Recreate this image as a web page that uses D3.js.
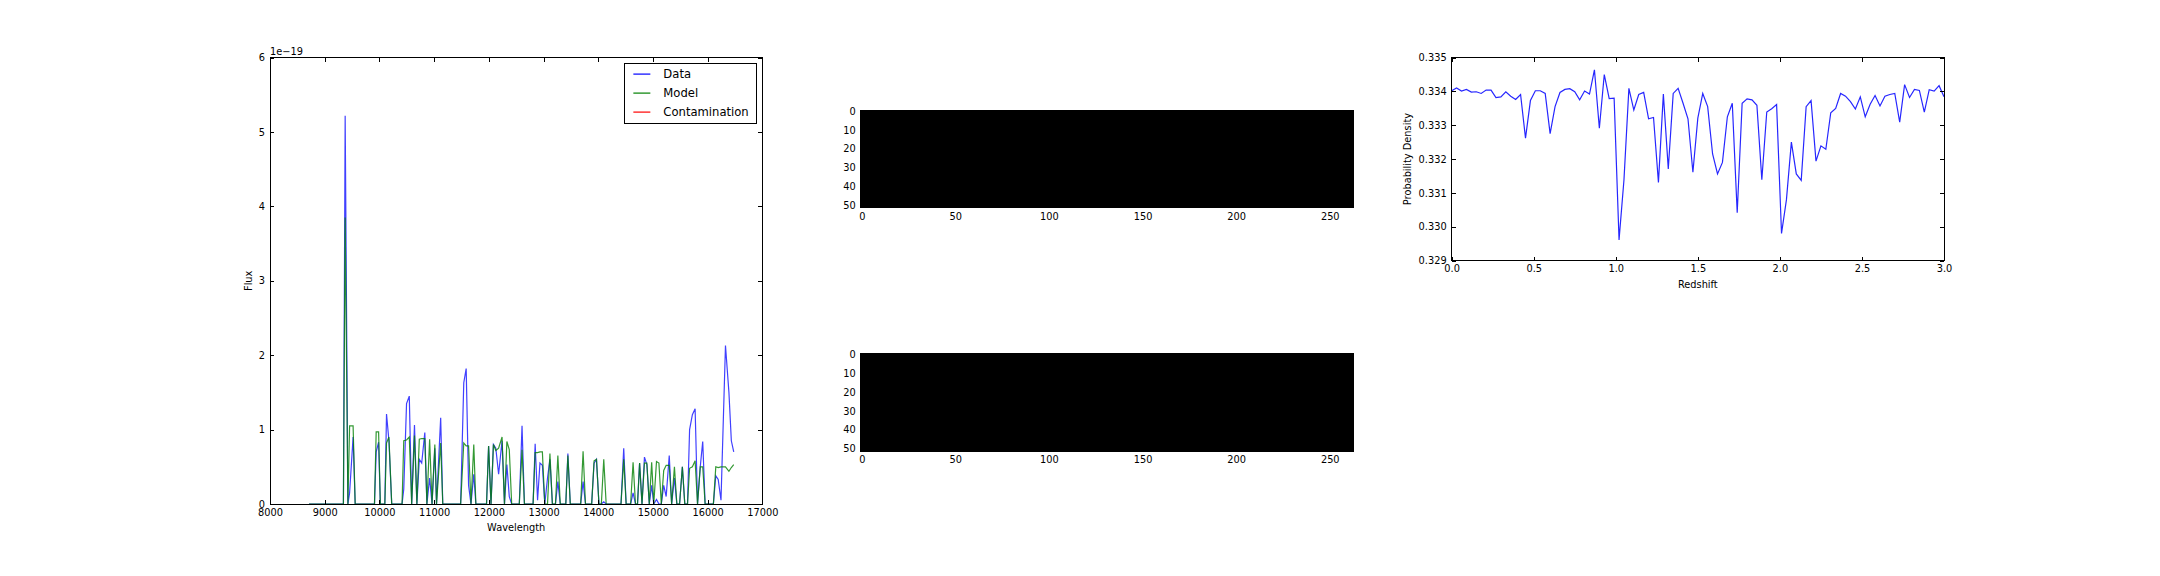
<!DOCTYPE html>
<html><head><meta charset="utf-8">
<script src="https://cdn.jsdelivr.net/npm/d3@7/dist/d3.min.js"></script>
<style>
html,body{margin:0;padding:0;background:#fff;}
svg text{font-family:"DejaVu Sans",sans-serif;fill:#000;}
</style></head>
<body><svg id="c" width="2160" height="576"></svg>
<script>
// ---------------- DATA ----------------
// Spectrum (flux in units of 1e-19)
const wavelength = [8712,9342,9374,9424,9455,9519,9557,9910,9941,9985,10017,10099,10130,10174,10225,10414,10445,10496,10546,10590,10641,10685,10729,10773,10830,10868,10918,10962,11013,11044,11120,11158,11485,11542,11586,11630,11674,11725,11763,11958,11996,12040,12084,12128,12179,12242,12286,12330,12374,12418,12557,12607,12651,12809,12847,12891,12935,12979,13023,13073,13117,13162,13218,13262,13306,13407,13445,13489,13679,13723,13767,13880,13924,13968,14013,14057,14101,14145,14416,14466,14510,14592,14637,14681,14718,14756,14800,14845,14889,14933,14977,15015,15065,15109,15153,15197,15242,15298,15342,15393,15437,15487,15538,15582,15632,15670,15721,15771,15815,15865,15910,15954,16105,16149,16193,16244,16326,16389,16433,16477];
const dataFlux = [0,0,5.22,0,0.15,0.9,0,0,0.7,0.83,0,0,1.21,0.85,0,0,0.2,1.35,1.45,0,1.06,0,0.6,0.55,0.96,0,0.35,0,0.75,0,1.16,0,0,1.63,1.82,0.25,0,0.4,0,0,0.78,0,0.8,0.75,0.4,0.85,0,0.53,0.1,0,0,1.05,0,0,0.81,0.05,0.55,0.52,0,0.35,0.6,0,0,0.3,0,0,0.68,0,0,0.3,0,0,0.55,0.6,0,0,0.03,0,0,0.75,0,0,0.15,0,0,0.55,0,0.63,0.53,0,0.25,0,0.06,0,0,0.25,0.1,0.65,0,0.35,0,0,0.5,0,0,1.0,1.2,1.28,0,0.5,0.84,0,0,0.38,0.33,0.05,2.13,1.5,0.85,0.7];
const modelFlux = [0,0,3.85,0,1.05,1.05,0,0,0.97,0.97,0,0,0.82,0.9,0,0,0.85,0.86,0.9,0,0.92,0,0.87,0.88,0.88,0,0.87,0,0.8,0,0.82,0,0,0.82,0.78,0.78,0,0.8,0,0,0.78,0,0.8,0.72,0.75,0.9,0,0.84,0.73,0,0,0.73,0,0,0.69,0.69,0.7,0.7,0,0,0.68,0,0,0.65,0,0,0.65,0,0,0.71,0,0,0.58,0.6,0,0,0.6,0,0,0.6,0,0,0.56,0,0,0.55,0,0.55,0.55,0,0.56,0,0.57,0.55,0,0.45,0.52,0.52,0,0.5,0,0,0.5,0,0,0.48,0.5,0.58,0,0.5,0.5,0,0,0.5,0.49,0.5,0.5,0.44,0.49,0.53];
const contamFlux = []; // contamination not drawn (no finite values)
const seriesNames = ["Data","Model","Contamination"];
const waveTicks = [8000,9000,10000,11000,12000,13000,14000,15000,16000,17000];
const fluxTicks = [0,1,2,3,4,5,6];

// Redshift probability
const redshift = [0.00,0.03,0.06,0.09,0.12,0.15,0.18,0.21,0.24,0.27,0.30,0.33,0.36,0.39,0.42,0.45,0.48,0.51,0.54,0.57,0.60,0.63,0.66,0.69,0.72,0.75,0.78,0.81,0.84,0.87,0.90,0.93,0.96,0.99,1.02,1.05,1.08,1.11,1.14,1.17,1.20,1.23,1.26,1.29,1.32,1.35,1.38,1.41,1.44,1.47,1.50,1.53,1.56,1.59,1.62,1.65,1.68,1.71,1.74,1.77,1.80,1.83,1.86,1.89,1.92,1.95,1.98,2.01,2.04,2.07,2.10,2.13,2.16,2.19,2.22,2.25,2.28,2.31,2.34,2.37,2.40,2.43,2.46,2.49,2.52,2.55,2.58,2.61,2.64,2.67,2.70,2.73,2.76,2.79,2.82,2.85,2.88,2.91,2.94,2.97,3.00];
const probDensity = [0.33402,0.33410,0.33401,0.33406,0.33398,0.33399,0.33394,0.33404,0.33404,0.33382,
0.33384,0.33399,0.33386,0.33376,0.33391,0.33262,0.33373,0.33402,0.33402,0.33394,
0.33275,0.33355,0.33397,0.33406,0.33408,0.33399,0.33375,0.33401,0.33392,0.33464,
0.33291,0.33450,0.33379,0.33380,0.32961,0.33139,0.33409,0.33345,0.33391,0.33397,
0.33319,0.33323,0.33131,0.33392,0.33171,0.33394,0.33409,0.33365,0.33319,0.33161,
0.33321,0.33394,0.33355,0.33215,0.33156,0.33190,0.33325,0.33365,0.33041,0.33365,
0.33378,0.33375,0.33359,0.33139,0.33339,0.33349,0.33361,0.32980,0.33080,0.33250,
0.33156,0.33137,0.33355,0.33373,0.33194,0.33239,0.33229,0.33337,0.33350,0.33394,
0.33386,0.33370,0.33348,0.33384,0.33325,0.33362,0.33388,0.33357,0.33386,0.33391,
0.33394,0.33309,0.33420,0.33382,0.33406,0.33403,0.33339,0.33405,0.33401,0.33417,
0.33384];
const zTicks = [0.0,0.5,1.0,1.5,2.0,2.5,3.0];
const pTicks = [0.329,0.330,0.331,0.332,0.333,0.334,0.335];

// 2D images (all-zero arrays shown in gray colormap)
const imageCols = 263, imageRows = 52;
const imgXTicks = [0,50,100,150,200,250];
const imgYTicks = [0,10,20,30,40,50];

// ---------------- DRAWING ----------------
const svg = d3.select("#c");
const FS = 9.8, LFS = 11.6;
const TICK = 4, PAD = 4;
const colors = {Data:"#0000ff", Model:"#008000", Contamination:"#ff0000"};

function frame(g, w, h, fill){
  g.append("rect").attr("x",0).attr("y",0).attr("width",w).attr("height",h)
   .attr("fill",fill||"none").attr("stroke","#000").attr("stroke-width",1).attr("shape-rendering","crispEdges");
}
function axes(g, x, y, w, h, xt, yt, xf, yf){
  const ab = d3.axisBottom(x).tickValues(xt).tickSizeInner(-TICK).tickSizeOuter(0).tickPadding(PAD+1).tickFormat(xf);
  const at = d3.axisTop(x).tickValues(xt).tickSizeInner(-TICK).tickSizeOuter(0).tickFormat("");
  const al = d3.axisLeft(y).tickValues(yt).tickSizeInner(-TICK).tickSizeOuter(0).tickPadding(PAD+1).tickFormat(yf);
  const ar = d3.axisRight(y).tickValues(yt).tickSizeInner(-TICK).tickSizeOuter(0).tickFormat("");
  [[ab,`translate(0,${h})`],[at,"translate(0,0)"],[al,"translate(0,0)"],[ar,`translate(${w},0)`]].forEach(([a,t])=>{
    const gg = g.append("g").attr("transform",t).call(a);
    gg.select(".domain").remove();
    gg.selectAll("line").attr("stroke","#000").attr("shape-rendering","crispEdges");
    gg.selectAll("text").attr("font-size",FS).attr("font-family","DejaVu Sans").attr("fill","#000");
  });
}

// Left panel: spectrum
{
  const L=270, T=57.6, W=492.35, H=446.4;
  const g = svg.append("g").attr("transform",`translate(${L},${T})`);
  const x = d3.scaleLinear().domain([8000,17000]).range([0,W]);
  const y = d3.scaleLinear().domain([0,6]).range([H,0]);
  g.append("clipPath").attr("id","clipL").append("rect").attr("width",W).attr("height",H);
  const line = (vals)=> d3.line().x((d,i)=>x(wavelength[i])).y(d=>y(d))(vals);
  const pg = g.append("g").attr("clip-path","url(#clipL)");
  pg.append("path").attr("d",line(dataFlux)).attr("fill","none").attr("stroke",colors.Data).attr("stroke-width",1.2).attr("stroke-opacity",0.75);
  pg.append("path").attr("d",line(modelFlux)).attr("fill","none").attr("stroke",colors.Model).attr("stroke-width",1.2).attr("stroke-opacity",0.8);
  if(contamFlux.length) pg.append("path").attr("d",line(contamFlux)).attr("fill","none").attr("stroke",colors.Contamination);
  axes(g,x,y,W,H,waveTicks,fluxTicks,d3.format("d"),d3.format("d"));
  frame(g,W,H);
  g.append("text").attr("x",0).attr("y",-3).attr("font-size",FS).text("1e\u221219");
  g.append("text").attr("x",W/2).attr("y",H+27).attr("text-anchor","middle").attr("font-size",FS).text("Wavelength");
  g.append("text").attr("transform",`translate(${-18},${H/2}) rotate(-90)`).attr("text-anchor","middle").attr("font-size",FS).text("Flux");
  // legend
  const lg = g.append("g").attr("transform",`translate(${W-138},6)`);
  lg.append("rect").attr("width",132).attr("height",60).attr("fill","#fff").attr("stroke","#000").attr("stroke-width",1).attr("shape-rendering","crispEdges");
  seriesNames.forEach((n,i)=>{
    const yy = 10.5+i*19;
    lg.append("line").attr("x1",9).attr("x2",26).attr("y1",yy).attr("y2",yy).attr("stroke",colors[n]).attr("stroke-width",1.2);
    lg.append("text").attr("x",39).attr("y",yy).attr("dy","0.36em").attr("font-size",LFS).text(n);
  });
}

// Middle panels: images
function imagePanel(top){
  const L=860.8, W=492.35, H=W*imageRows/imageCols;
  const g = svg.append("g").attr("transform",`translate(${L},${top})`);
  const x = d3.scaleLinear().domain([-0.5,imageCols-0.5]).range([0,W]);
  const y = d3.scaleLinear().domain([-0.5,imageRows-0.5]).range([0,H]);
  g.append("rect").attr("width",W).attr("height",H).attr("fill","#000");
  axes(g,x,y,W,H,imgXTicks,imgYTicks,d3.format("d"),d3.format("d"));
  frame(g,W,H);
}
{
  const H = 492.35*imageRows/imageCols;
  const rowH = (504-57.6)/2.2;
  imagePanel(57.6 + rowH/2 - H/2);
  imagePanel(57.6 + rowH*1.2 + rowH/2 - H/2);
}

// Right panel: redshift PDF
{
  const L=1451.65, T=57.6, W=492.35, H=(504-57.6)/2.2;
  const g = svg.append("g").attr("transform",`translate(${L},${T})`);
  const x = d3.scaleLinear().domain([0,3]).range([0,W]);
  const y = d3.scaleLinear().domain([0.329,0.335]).range([H,0]);
  g.append("clipPath").attr("id","clipR").append("rect").attr("width",W).attr("height",H);
  g.append("g").attr("clip-path","url(#clipR)").append("path")
    .attr("d", d3.line().x((d,i)=>x(redshift[i])).y(d=>y(d))(probDensity))
    .attr("fill","none").attr("stroke","#0000ff").attr("stroke-width",1.2).attr("stroke-opacity",0.85);
  axes(g,x,y,W,H,zTicks,pTicks,d3.format(".1f"),d3.format(".3f"));
  frame(g,W,H);
  g.append("text").attr("x",W/2).attr("y",H+27).attr("text-anchor","middle").attr("font-size",FS).text("Redshift");
  g.append("text").attr("transform",`translate(${-41},${H/2}) rotate(-90)`).attr("text-anchor","middle").attr("font-size",FS).text("Probability Density");
}
</script></body></html>
